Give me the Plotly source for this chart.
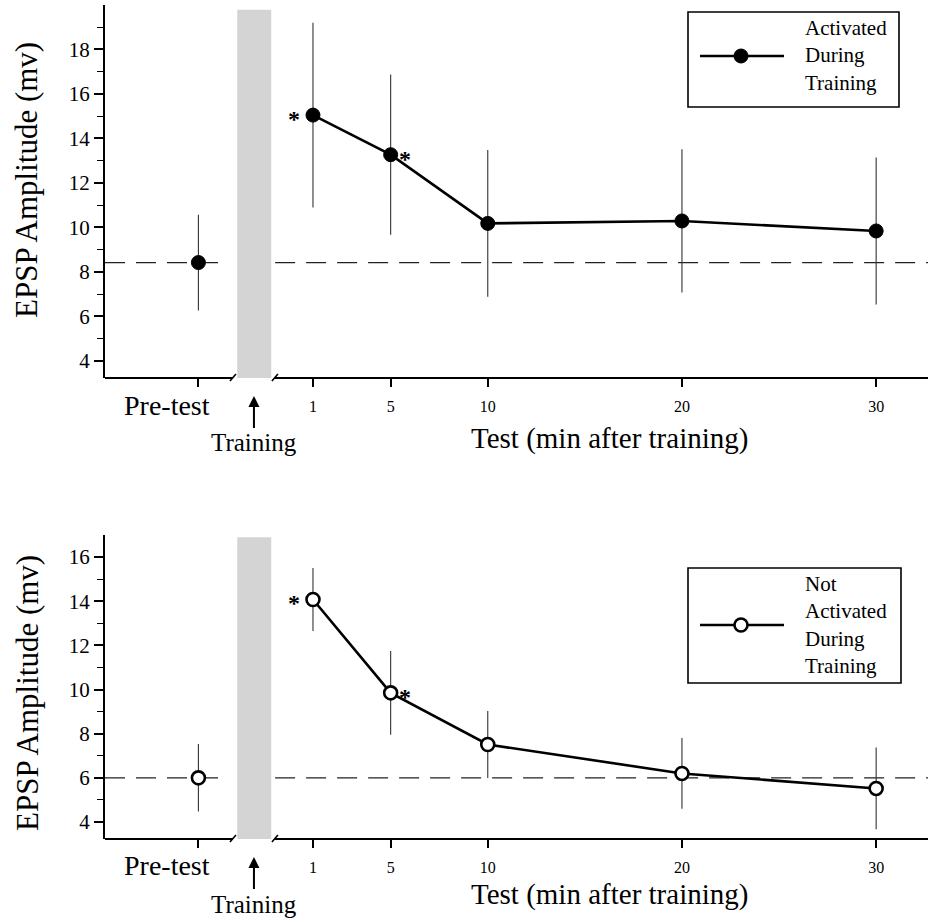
import plotly.graph_objects as go

W, H = 930, 920
FONT = "Liberation Serif"

# ---------------- data ----------------
test_minutes = [1, 5, 10, 20, 30]
tick_labels = ["1", "5", "10", "20", "30"]
pretest_pos = -4.9          # where the pre-test point sits on the minutes axis
pretest_label = "Pre-test"

act_pre_mean = 8.42
act_pre_err = 2.15
act_mean = [15.05, 13.27, 10.18, 10.29, 9.84]
act_err = [4.15, 3.60, 3.30, 3.22, 3.30]

nact_pre_mean = 6.0
nact_pre_err = 1.53
nact_mean = [14.08, 9.85, 7.51, 6.20, 5.52]
nact_err = [1.43, 1.90, 1.52, 1.60, 1.85]

significant = [True, True, False, False, False]
star_side = ["left", "right", None, None, None]

legend_top = "Activated<br>During<br>Training"
legend_bot = "Not<br>Activated<br>During<br>Training"

# ---------------- layout helpers ----------------
X_RANGE = [-9.71, 32.67]
X_DOM = [105 / W, 928 / W]
TOP_DOM = [1 - 378 / H, 1 - 5 / H]
BOT_DOM = [1 - 839 / H, 1 - 535 / H]
TOP_RANGE = [3.23, 20.0]
BOT_RANGE = [3.23, 17.0]
BAND = [-2.9, -1.15]
BREAK_L, BREAK_R = -3.12, -0.96
DASH_L, DASH_R = -3.52, -0.95
ARROW_X = -2.04


def px(x):
    return x / W


def py(y):
    return 1 - y / H


fig = go.Figure()


def add_panel(xa, ya, pre_mean, pre_err, means, errs, filled):
    # dashed baseline at the pre-test level
    fig.add_trace(go.Scatter(
        x=[X_RANGE[0], DASH_L, None, DASH_R, X_RANGE[1]],
        y=[pre_mean, pre_mean, None, pre_mean, pre_mean],
        mode="lines", line=dict(color="#222", width=1.2, dash="20px,11px"),
        xaxis=xa, yaxis=ya, showlegend=False, hoverinfo="skip"))
    marker = dict(size=14, color="black", line=dict(color="black", width=1)) if filled else \
        dict(size=13, color="white", line=dict(color="black", width=2.6))
    err = dict(type="data", visible=True, thickness=1.1, width=0, color="#333")
    fig.add_trace(go.Scatter(
        x=[pretest_pos], y=[pre_mean], mode="markers", marker=marker,
        error_y=dict(array=[pre_err], **err),
        xaxis=xa, yaxis=ya, showlegend=False))
    fig.add_trace(go.Scatter(
        x=test_minutes, y=means, mode="lines+markers", marker=marker,
        line=dict(color="black", width=2.6),
        error_y=dict(array=errs, **err),
        xaxis=xa, yaxis=ya, showlegend=False))
    for xm, ym, sig, side in zip(test_minutes, means, significant, star_side):
        if sig:
            fig.add_annotation(x=xm, y=ym, xref=xa, yref=ya, text="<b>*</b>", showarrow=False,
                               xanchor="center", yanchor="middle",
                               font=dict(family=FONT, size=24, color="black"),
                               xshift=-19 if side == "left" else 14, yshift=-4)


add_panel("x", "y", act_pre_mean, act_pre_err, act_mean, act_err, True)
add_panel("x2", "y2", nact_pre_mean, nact_pre_err, nact_mean, nact_err, False)

# ---------------- axes ----------------
xcommon = dict(range=X_RANGE, domain=X_DOM, showgrid=False, zeroline=False, showline=False,
               tickvals=[pretest_pos] + test_minutes, ticktext=[""] + tick_labels,
               ticks="outside", ticklen=8, tickwidth=1.6, tickcolor="black",
               tickfont=dict(family=FONT, size=16, color="black"), ticklabelstandoff=6,
               automargin=False, fixedrange=True)
ycommon = dict(showgrid=False, zeroline=False, showline=True, linewidth=2, linecolor="black",
               ticks="outside", ticklen=9, tickwidth=1.6, tickcolor="black",
               tickfont=dict(family=FONT, size=21, color="black"), automargin=False)

fig.update_layout(
    xaxis=dict(anchor="y", **xcommon),
    xaxis2=dict(anchor="y2", **xcommon),
    yaxis=dict(anchor="x", domain=TOP_DOM, range=TOP_RANGE,
               tickvals=list(range(4, 19, 2)),
               minor=dict(tickvals=list(range(5, 20, 2)), ticks="outside", ticklen=6,
                          tickwidth=1.4, tickcolor="black"), **ycommon),
    yaxis2=dict(anchor="x2", domain=BOT_DOM, range=BOT_RANGE,
                tickvals=list(range(4, 17, 2)),
                minor=dict(tickvals=list(range(5, 16, 2)), ticks="outside", ticklen=6,
                           tickwidth=1.4, tickcolor="black"), **ycommon),
)

shapes = []
for xa, ya, band_top in (("x", "y", 0.987), ("x2", "y2", 0.993)):
    # training band
    shapes.append(dict(type="rect", xref=xa, yref=f"{ya} domain", x0=BAND[0], x1=BAND[1],
                       y0=0, y1=band_top, fillcolor="#d4d4d4", line=dict(width=0), layer="below"))
    # broken x axis line
    for x0, x1 in ((X_RANGE[0], BREAK_L), (BREAK_R, X_RANGE[1])):
        shapes.append(dict(type="line", xref=xa, yref=f"{ya} domain", x0=x0, x1=x1, y0=0, y1=0,
                           line=dict(color="black", width=2)))
    for xb in (BREAK_L, BREAK_R):
        shapes.append(dict(type="line", xref=xa, yref=f"{ya} domain",
                           xsizemode="pixel", ysizemode="pixel", xanchor=xb, yanchor=0,
                           x0=-3, x1=3, y0=-3, y1=4, line=dict(color="black", width=1.6)))

# legends (drawn by hand)
for (bx0, bx1, by0, by1, ly, filled, txt) in (
        (688, 899, 12, 107, 56, True, legend_top),
        (688, 901, 568, 683, 625, False, legend_bot)):
    shapes.append(dict(type="rect", xref="paper", yref="paper", x0=px(bx0), x1=px(bx1),
                       y0=py(by1), y1=py(by0), line=dict(color="black", width=1.6),
                       fillcolor="white"))
    shapes.append(dict(type="line", xref="paper", yref="paper", x0=px(700), x1=px(784),
                       y0=py(ly), y1=py(ly), line=dict(color="black", width=2.6)))
    r = 7 if filled else 6.5
    shapes.append(dict(type="circle", xref="paper", yref="paper", x0=px(741 - r), x1=px(741 + r),
                       y0=py(ly + r), y1=py(ly - r),
                       fillcolor="black" if filled else "white",
                       line=dict(color="black", width=1 if filled else 2.6)))
    fig.add_annotation(x=px(803), y=py(ly), xref="paper", yref="paper", text=txt,
                       xanchor="left", yanchor="middle", align="left", showarrow=False,
                       font=dict(family=FONT, size=21, color="black"))

fig.update_layout(shapes=shapes)

# axis titles and labels
for ya, title_y, pre_y, test_y, tip_y in (("y", 180, 405, 438, 396),
                                          ("y2", 693, 865, 894, 857)):
    xa = "x" if ya == "y" else "x2"
    fig.add_annotation(x=px(27), y=py(title_y), xref="paper", yref="paper",
                       text="EPSP Amplitude (mv)", textangle=-90, showarrow=False,
                       xanchor="center", yanchor="middle",
                       font=dict(family=FONT, size=31, color="black"))
    fig.add_annotation(x=pretest_pos, y=py(pre_y), xref=xa, yref="paper", text=pretest_label,
                       xanchor="right", yanchor="middle", xshift=14, showarrow=False,
                       font=dict(family=FONT, size=28, color="black"))
    fig.add_annotation(x=px(609), y=py(test_y), xref="paper", yref="paper",
                       text="Test (min after training)", showarrow=False,
                       xanchor="center", yanchor="middle",
                       font=dict(family=FONT, size=29, color="black"))
    fig.add_annotation(x=ARROW_X, y=py(tip_y), xref=xa, yref="paper", text="Training",
                       showarrow=True, ax=0, ay=47, arrowhead=2, arrowsize=1.1, arrowwidth=2,
                       arrowcolor="black", standoff=0,
                       font=dict(family=FONT, size=25, color="black"))

fig.update_layout(width=W, height=H, margin=dict(l=0, r=0, t=0, b=0),
                  paper_bgcolor="white", plot_bgcolor="white", template="none",
                  showlegend=False)

fig.write_html("out.html")
